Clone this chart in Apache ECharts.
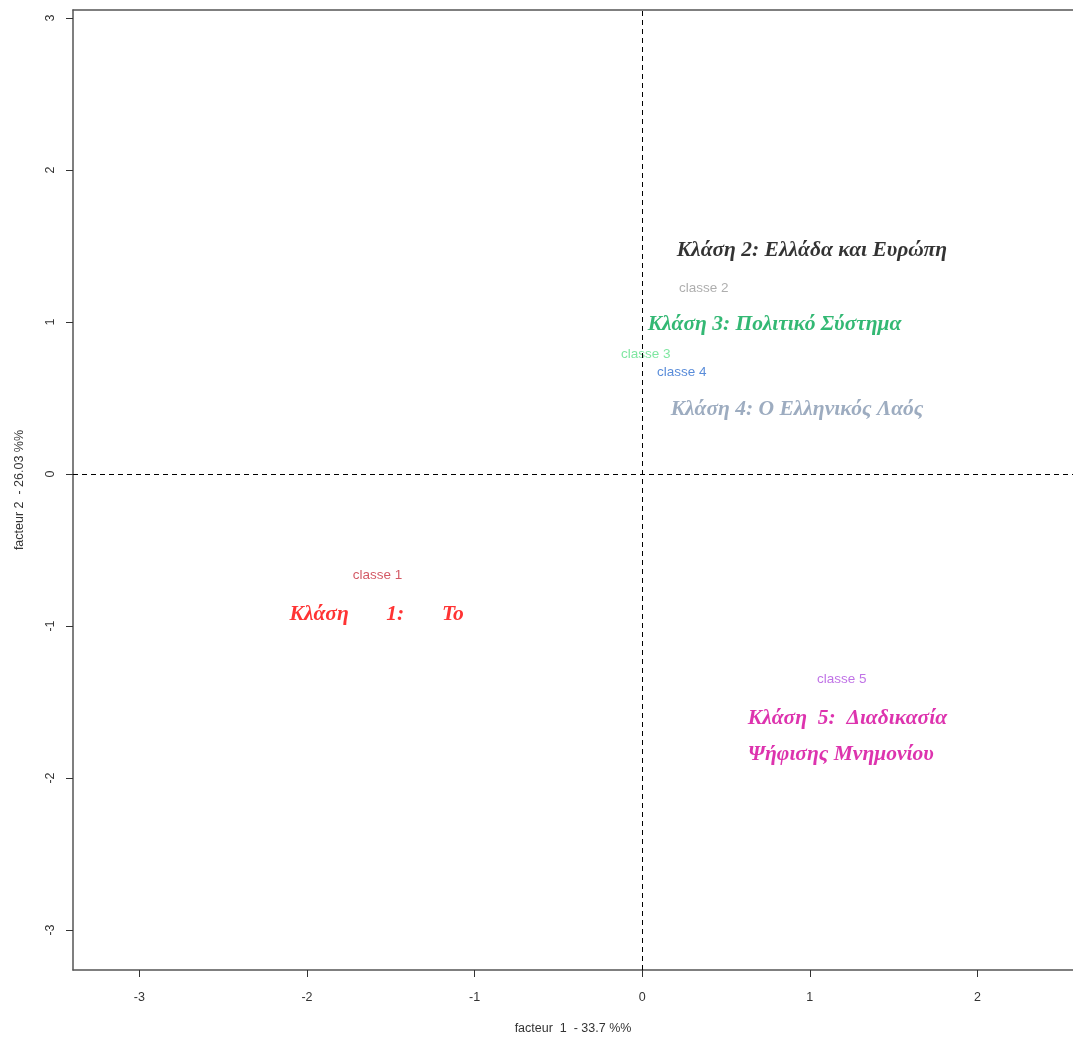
<!DOCTYPE html>
<html><head><meta charset="utf-8">
<script src="https://cdn.jsdelivr.net/npm/echarts@6/dist/echarts.min.js"></script>
<style>html,body{margin:0;padding:0;background:#fff}#c{width:1073px;height:1037px}</style>
</head><body><div id="c"></div>
<script>
// class points (factor 1, factor 2)
const classNames = ['classe 1','classe 2','classe 3','classe 4','classe 5'];
const factor1 = [-1.579, 0.367, 0.021, 0.236, 1.191];
const factor2 = [-0.664, 1.224, 0.789, 0.671, -1.349];
const classColors = ['#c8303f','#9a9a9a','#5fe08a','#2f6fd0','#b050e0'];

// annotation texts (anchored at left edge)
const annTexts = ['Κλάση 2: Ελλάδα και Ευρώπη','Κλάση 3: Πολιτικό Σύστημα','Κλάση 4: Ο Ελληνικός Λαός','Κλάση       1:       Το','Κλάση  5:  Διαδικασία','Ψήφισης Μνημονίου'];
const annX = [0.206, 0.015, 0.170, -2.104, 0.630, 0.630];
const annY = [1.474, 0.987, 0.428, -0.921, -1.605, -1.842];
const annColors = ['#000000','#00a651','#8497b0','#ff0000','#d4009a','#d4009a'];

const xTicks = [-3,-2,-1,0,1,2];
const yTicks = [-3,-2,-1,0,1,2,3];

const chart = echarts.init(document.getElementById('c'));
chart.setOption({
  animation:false,
  backgroundColor:'#fff',
  grid:{left:73,right:0,top:10,bottom:67,outerBoundsMode:'none',containLabel:false},
  xAxis:[{
    type:'value', min:-3.396, max:2.570, interval:1,
    name:'facteur  1  - 33.7 %%', nameLocation:'middle', nameGap:52,
    nameTextStyle:{fontFamily:'Liberation Sans, Arial', fontSize:12.5, color:'#333'},
    axisLine:{show:true,onZero:false,lineStyle:{color:'#555',width:1.5}},
    axisTick:{show:true,length:7,lineStyle:{color:'#333'},customValues:xTicks},
    axisLabel:{fontFamily:'Liberation Sans, Arial',fontSize:12.5,color:'#333',margin:21,customValues:xTicks,formatter:v=>String(v)},
    splitLine:{show:false}
  },{
    type:'value', position:'top', min:-3.396, max:2.570,
    axisLine:{show:true,onZero:false,lineStyle:{color:'#555',width:1.5}},
    axisTick:{show:false}, axisLabel:{show:false}, splitLine:{show:false}
  }],
  yAxis:{
    type:'value', min:-3.263, max:3.053,
    name:'facteur 2  - 26.03 %%', nameLocation:'middle', nameGap:47, nameRotate:90,
    nameTextStyle:{fontFamily:'Liberation Sans, Arial', fontSize:12.5, color:'#333'},
    axisLine:{show:true,onZero:false,lineStyle:{color:'#555',width:1.5}},
    axisTick:{show:true,length:7,lineStyle:{color:'#333'},customValues:yTicks},
    axisLabel:{fontFamily:'Liberation Sans, Arial',fontSize:12.5,color:'#333',margin:16,rotate:90,customValues:yTicks,formatter:v=>String(v)},
    splitLine:{show:false}
  },
  series:[{
    type:'scatter', z:1, data:[], symbolSize:0,
    markLine:{silent:true,symbol:'none',label:{show:false},
      lineStyle:{color:'#000',type:[5,4],width:1},
      data:[{xAxis:0},{yAxis:0}]}
  },{
    type:'scatter', z:3, symbolSize:0,
    data:classNames.map((n,i)=>({value:[factor1[i],factor2[i]],name:n,
      label:{color:classColors[i]}})),
    label:{show:true,position:'inside',formatter:p=>p.name,
      fontFamily:'Liberation Sans, Arial',fontSize:13.5}
  },{
    type:'scatter', z:4, symbolSize:0,
    data:annTexts.map((t,i)=>({value:[annX[i],annY[i]],name:t,
      label:Object.assign({color:annColors[i]}, i===1?{backgroundColor:'#fff',padding:[15,0,10,3]}:{})})),
    label:{show:true,position:'inside',align:'left',verticalAlign:'middle',formatter:p=>p.name,
      fontFamily:'Liberation Serif, Times New Roman',fontStyle:'italic',fontWeight:'bold',fontSize:21.5}
  }]
});
</script></body></html>
